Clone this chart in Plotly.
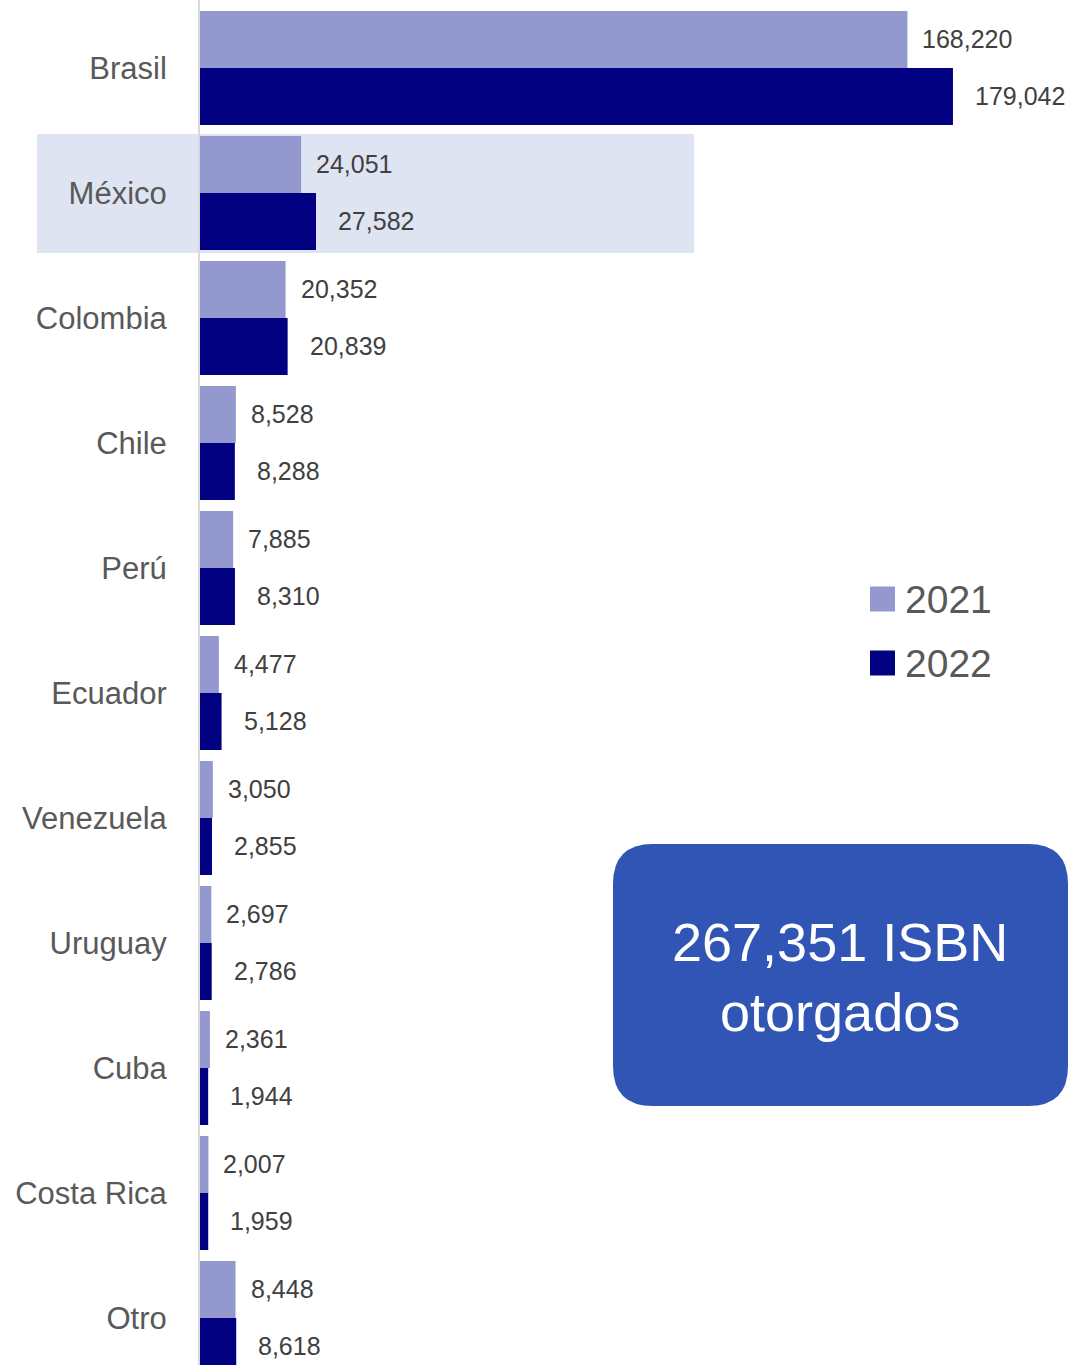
import plotly.graph_objects as go

categories = ["Brasil", "México", "Colombia", "Chile", "Perú", "Ecuador",
              "Venezuela", "Uruguay", "Cuba", "Costa Rica", "Otro"]
values_2021 = [168220, 24051, 20352, 8528, 7885, 4477, 3050, 2697, 2361, 2007, 8448]
values_2022 = [179042, 27582, 20839, 8288, 8310, 5128, 2855, 2786, 1944, 1959, 8618]
series_names = ["2021", "2022"]
total_text = "267,351 ISBN<br>otorgados"
highlight_category = "México"

W, H = 1068, 1365
ML = 200
PW = W - ML

C21 = "#9399CE"
C22 = "#000080"
FONT = "Liberation Sans Narrow, Arial Narrow, Liberation Sans, Arial, sans-serif"


def fx(p):
    return (p - ML) / PW


def fy(p):
    return 1 - p / H


fig = go.Figure()
fig.add_trace(go.Bar(y=categories, x=values_2021, name=series_names[0], orientation="h",
                     marker=dict(color=C21, line=dict(width=0)), showlegend=False))
fig.add_trace(go.Bar(y=categories, x=values_2022, name=series_names[1], orientation="h",
                     marker=dict(color=C22, line=dict(width=0)), showlegend=False))

annotations = []
for cat, v in zip(categories, values_2021):
    annotations.append(dict(x=v, y=cat, xref="x", yref="y", text=f"{v:,}", showarrow=False,
                            xanchor="left", yanchor="middle", xshift=13, yshift=29,
                            font=dict(family=FONT, size=25, color="#404040")))
for cat, v in zip(categories, values_2022):
    annotations.append(dict(x=v, y=cat, xref="x", yref="y", text=f"{v:,}", showarrow=False,
                            xanchor="left", yanchor="middle", xshift=20, yshift=-28,
                            font=dict(family=FONT, size=25, color="#404040")))

# legend (manual, large squares)
for name, col, cy in [(series_names[0], C21, 599), (series_names[1], C22, 663)]:
    annotations.append(dict(x=fx(903), y=fy(cy), xref="paper", yref="paper", text=name,
                            showarrow=False, xanchor="left", yanchor="middle",
                            font=dict(family=FONT, size=39, color="#595959")))

# total box text
annotations.append(dict(x=fx(840), y=fy(977), xref="paper", yref="paper", text=total_text,
                        showarrow=False, xanchor="center", yanchor="middle",
                        font=dict(family=FONT, size=54, color="white")))

shapes = []
# highlight band for México
shapes.append(dict(type="rect", xref="paper", yref="paper",
                   x0=fx(37), x1=fx(694), y0=fy(134), y1=fy(253),
                   fillcolor="#DFE4F2", line=dict(width=0), layer="below"))
# legend squares
for col, cy in [(C21, 599), (C22, 663)]:
    shapes.append(dict(type="rect", xref="paper", yref="paper",
                       x0=fx(870), x1=fx(895), y0=fy(cy - 12.5), y1=fy(cy + 12.5),
                       fillcolor=col, line=dict(width=0)))

# rounded box
x0p, x1p, y0p, y1p, r = 613, 1068, 844, 1106, 40


def P(x, y):
    return f"{fx(x):.5f},{fy(y):.5f}"


path = (f"M {P(x0p + r, y0p)} L {P(x1p - r, y0p)} Q {P(x1p, y0p)} {P(x1p, y0p + r)} "
        f"L {P(x1p, y1p - r)} Q {P(x1p, y1p)} {P(x1p - r, y1p)} "
        f"L {P(x0p + r, y1p)} Q {P(x0p, y1p)} {P(x0p, y1p - r)} "
        f"L {P(x0p, y0p + r)} Q {P(x0p, y0p)} {P(x0p + r, y0p)} Z")
shapes.append(dict(type="path", xref="paper", yref="paper", path=path,
                   fillcolor="#3055B5", line=dict(width=0), layer="below"))

fig.update_layout(
    width=W, height=H,
    margin=dict(l=ML, r=0, t=0, b=0, autoexpand=False),
    paper_bgcolor="white", plot_bgcolor="rgba(0,0,0,0)",
    barmode="group", bargap=0.088, bargroupgap=0,
    xaxis=dict(range=[0, 206400], visible=False, fixedrange=True, automargin=False),
    yaxis=dict(type="category", categoryorder="array", categoryarray=categories,
               range=[10.376, -0.544], showline=True, linecolor="#D9D9D9", linewidth=2,
               showgrid=False, zeroline=False, ticks="outside", ticklen=25,
               tickcolor="rgba(0,0,0,0)", automargin=False, fixedrange=True,
               tickfont=dict(family=FONT, size=31, color="#595959")),
    annotations=annotations,
    shapes=shapes,
    font=dict(family=FONT),
)

fig.write_html("out.html", config={"displayModeBar": False},
               post_script="document.body.style.margin='0';document.body.style.overflow='hidden';")
